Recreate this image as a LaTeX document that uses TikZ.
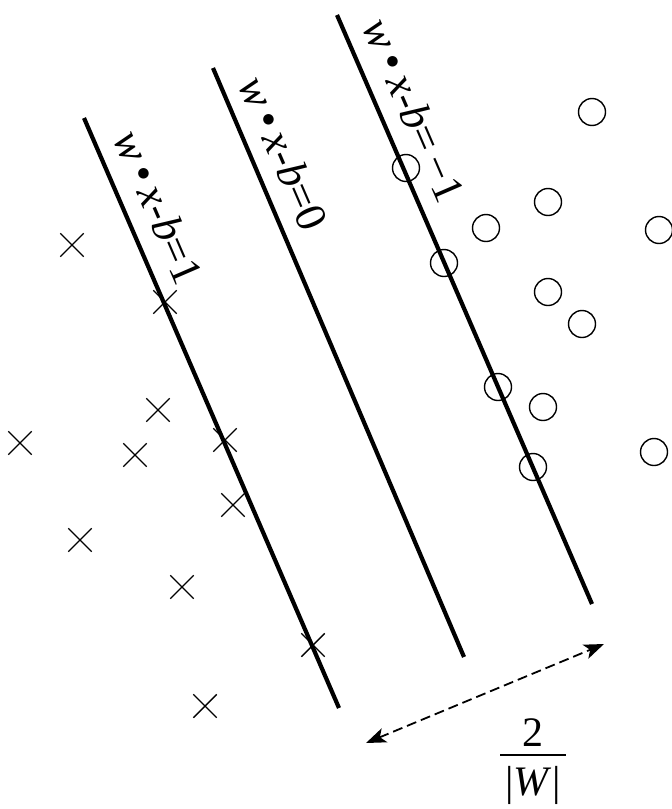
\documentclass[tikz,border=0pt]{standalone}
\usepackage{fontspec}
\setmainfont{Liberation Serif}
\usetikzlibrary{shapes.misc,arrows.meta}
\tikzset{
  sep/.style={line width=4.2pt, line cap=butt},
  xmark/.style={cross out, draw, line width=1.4pt, minimum size=22pt, inner sep=0pt},
  omark/.style={circle, draw, line width=1.4pt, minimum size=27pt, inner sep=0pt},
  lbl/.style={rotate=-66.6, font=\fontsize{44}{44}\selectfont, inner sep=0pt},
  margin/.style={dash pattern=on 10pt off 5pt, line width=1.8pt, {Stealth[length=20pt,width=15pt,inset=5pt]}-{Stealth[length=20pt,width=15pt,inset=5pt]}},
}
\begin{document}
\begin{tikzpicture}[x=1pt,y=-1pt]
\useasboundingbox (0,0) rectangle (672,809);
% separating lines
\coordinate (p1a) at (84,118);  \coordinate (p1b) at (339,708);
\coordinate (p2a) at (213,68);  \coordinate (p2b) at (464,657);
\coordinate (p3a) at (337,15);  \coordinate (p3b) at (592,604);
\draw[sep] (p1a) -- (p1b);
\draw[sep] (p2a) -- (p2b);
\draw[sep] (p3a) -- (p3b);
% labels
\node[lbl] (l1) at (159,207) {\itshape w\,\upshape•\,\itshape x\upshape -\itshape b\upshape =1};
\node[lbl] (l2) at (284,153) {\itshape w\,\upshape•\,\itshape x\upshape -\itshape b\upshape =0};
\node[lbl] (l3) at (414,110) {\itshape w\,\upshape•\,\itshape x\upshape -\itshape b\upshape =\,−1};
% crosses
\foreach \n/\x/\y in {c1/72/245, c2/165/302, c3/158/410, c4/20/443, c5/135/455, c6/225/440, c7/233/505, c8/80/540, c9/182/587, c10/313/645, c11/205/706}
  \node[xmark] (\n) at (\x,\y) {};
% circles
\foreach \n/\x/\y in {o1/592/112, o2/406/168, o3/548/202, o4/486/228, o5/659/230, o6/444/263, o7/548/292, o8/582/324, o9/498/387, o10/543/407, o11/654/452, o12/533/467}
  \node[omark] (\n) at (\x,\y) {};
% margin arrow
\coordinate (m1) at (366,743);
\coordinate (m2) at (604,644);
\draw[margin] (m1) -- (m2);
% fraction
\node[font=\fontsize{42}{42}\selectfont, inner sep=0pt] (num) at (533,733) {2};
\node[font=\fontsize{42}{42}\selectfont, inner sep=0pt] (den) at (533,785) {|\textit{W}|};
\coordinate (fb1) at (500,755);
\coordinate (fb2) at (566,755);
\draw[line width=1.8pt] (fb1) -- (fb2);
\end{tikzpicture}
\end{document}
